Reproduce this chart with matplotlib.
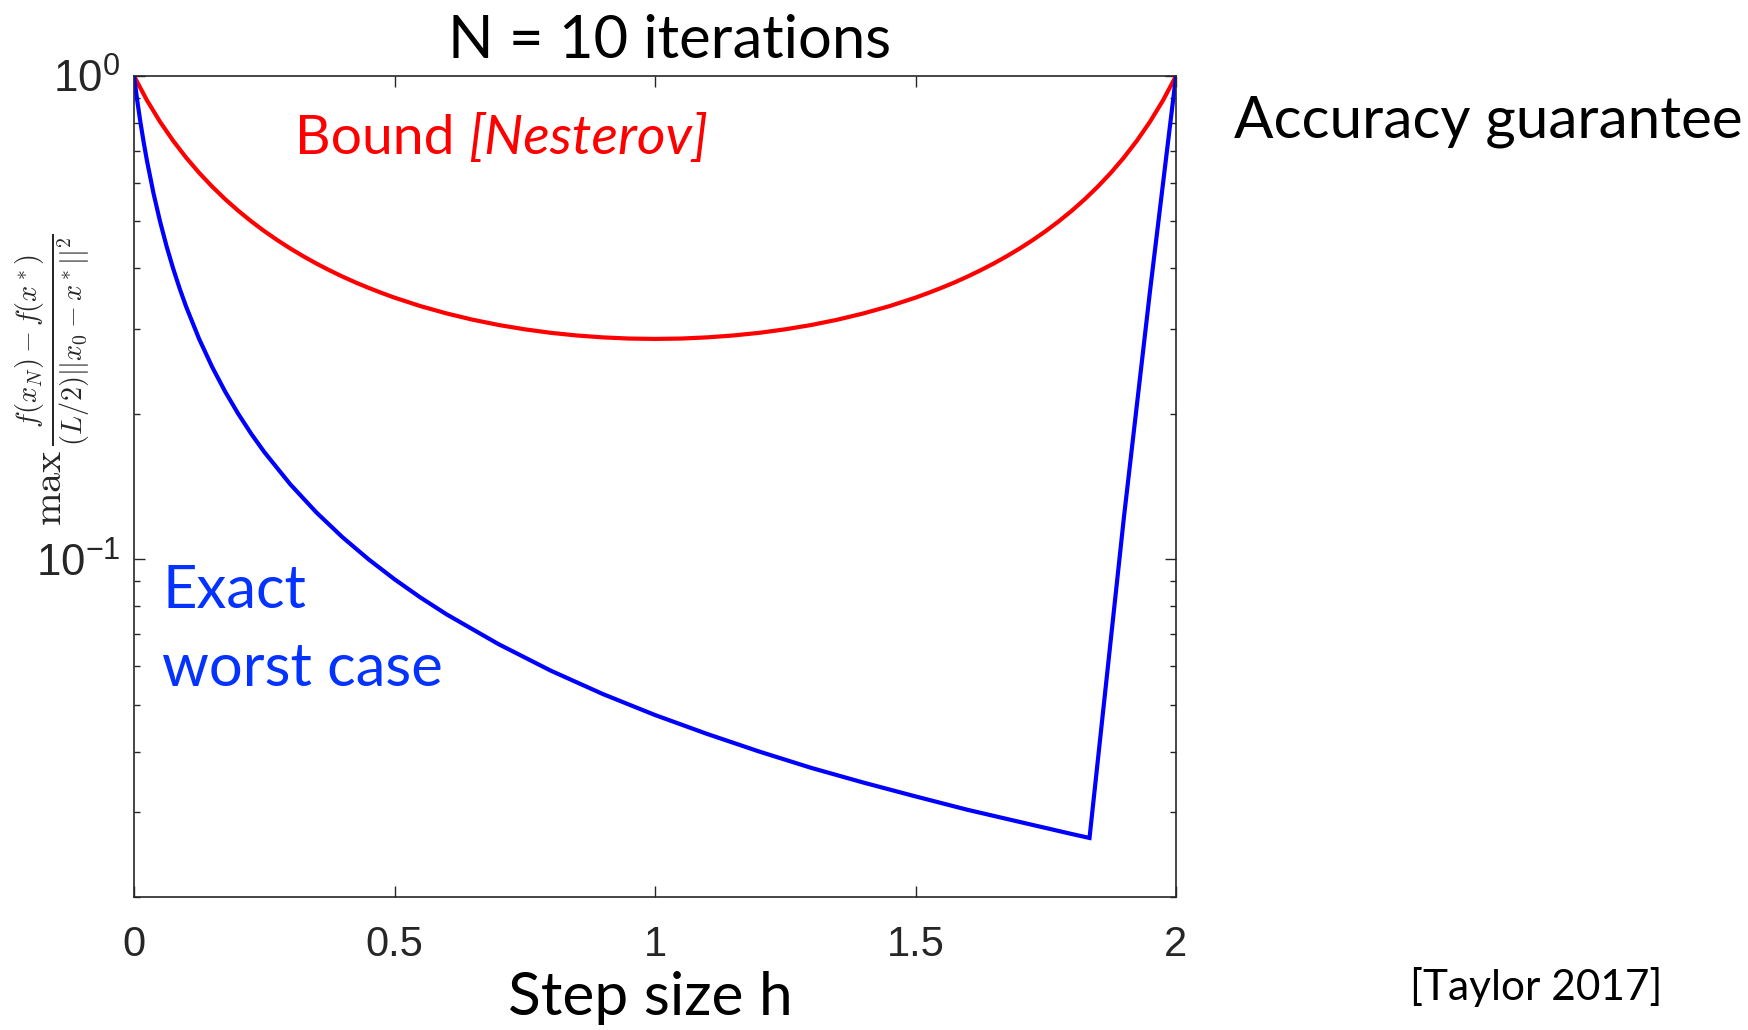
import matplotlib
matplotlib.use("Agg")
import matplotlib.pyplot as plt
import numpy as np
from matplotlib.ticker import LogLocator, NullFormatter, FixedLocator

# Data (N = 10 iterations)
h_bound = [0.0, 0.025, 0.05, 0.075, 0.1, 0.125, 0.15, 0.175, 0.2, 0.225, 0.25,
           0.275, 0.3, 0.325, 0.35, 0.375, 0.4, 0.425, 0.45, 0.475, 0.5,
           0.55, 0.6, 0.65, 0.7, 0.75, 0.8, 0.85, 0.9, 0.95, 1.0,
           1.05, 1.1, 1.15, 1.2, 1.25, 1.3, 1.35, 1.4, 1.45, 1.5,
           1.525, 1.55, 1.575, 1.6, 1.625, 1.65, 1.675, 1.7, 1.725, 1.75,
           1.775, 1.8, 1.825, 1.85, 1.875, 1.9, 1.925, 1.95, 1.975, 2.0]
bound = [1.0, 0.8901, 0.8040, 0.7348, 0.6780, 0.6305, 0.5904, 0.5560, 0.5263, 0.5004, 0.4776,
         0.4575, 0.4396, 0.4236, 0.4092, 0.3963, 0.3846, 0.3740, 0.3645, 0.3558, 0.3478,
         0.3340, 0.3226, 0.3131, 0.3053, 0.2991, 0.2941, 0.2904, 0.2878, 0.2862, 0.2857,
         0.2862, 0.2878, 0.2904, 0.2941, 0.2991, 0.3053, 0.3131, 0.3226, 0.3340, 0.3478,
         0.3558, 0.3645, 0.3740, 0.3846, 0.3963, 0.4092, 0.4236, 0.4396, 0.4575, 0.4776,
         0.5004, 0.5263, 0.5560, 0.5904, 0.6305, 0.6780, 0.7348, 0.8040, 0.8901, 1.0]

h_exact = [0.0, 0.00625, 0.0125, 0.01875, 0.025, 0.0375, 0.05, 0.0625, 0.075, 0.0875,
           0.1, 0.125, 0.15, 0.175, 0.2, 0.225, 0.25, 0.3, 0.35, 0.4, 0.45, 0.5, 0.55,
           0.6, 0.7, 0.8, 0.9, 1.0, 1.1, 1.2, 1.3, 1.4, 1.5, 1.6, 1.7, 1.8,
           1.834, 1.9, 1.95, 2.0]
exact = [1.0, 0.8889, 0.800, 0.7273, 0.6667, 0.5714, 0.500, 0.4444, 0.400, 0.3636,
         0.3333, 0.2857, 0.250, 0.2222, 0.200, 0.1818, 0.1667, 0.1429, 0.125, 0.1111, 0.100,
         0.0909, 0.0833, 0.0769, 0.0667, 0.0588, 0.0526, 0.0476, 0.0435, 0.0400, 0.0370,
         0.0345, 0.0323, 0.0303, 0.0286, 0.0270, 0.0265, 0.122, 0.358, 1.0]

xticks = [0, 0.5, 1, 1.5, 2]
xticklabels = ["0", "0.5", "1", "1.5", "2"]
yticks = [0.1, 1.0]
yticklabels = [r"$\mathregular{10^{-1}}$", r"$\mathregular{10^{0}}$"]

plt.rcParams["mathtext.fontset"] = "cm"
W, H = 1748, 1030
fig = plt.figure(figsize=(W / 100, H / 100), dpi=100, facecolor="white")
ax = fig.add_axes([134 / W, 1 - 897 / H, (1176 - 134) / W, (897 - 76) / H])

ax.plot(h_bound, bound, color="#ff0000", lw=3.0, solid_joinstyle="miter")
ax.plot(h_exact, exact, color="#0000ff", lw=3.0, solid_joinstyle="miter")

ax.set_yscale("log")
ax.set_xlim(0, 2)
ax.set_ylim(0.02, 1.0)

tick_col = "#262626"
ax.set_xticks(xticks)
ax.set_xticklabels(xticklabels, fontfamily="Liberation Sans", fontsize=30, color=tick_col)
ax.yaxis.set_major_locator(FixedLocator(yticks))
ax.set_yticklabels(yticklabels, fontfamily="Liberation Sans", fontsize=31.5, color=tick_col)
ax.yaxis.set_minor_locator(LogLocator(base=10, subs=np.arange(2, 10)))
ax.yaxis.set_minor_formatter(NullFormatter())

ax.tick_params(which="both", direction="in", top=True, right=True, color=tick_col, width=1.0)
ax.tick_params(which="major", length=8)
ax.tick_params(which="minor", length=4.5)
ax.tick_params(axis="x", pad=20)
ax.tick_params(axis="y", pad=10)
for s in ax.spines.values():
    s.set_color(tick_col)
    s.set_linewidth(1.2)

# y label (LaTeX style)
fig.text(53 / W, 1 - 380 / H,
         r"$\max\,\frac{f(x_N)-f(x^*)}{(L/2)||x_0-x^*||^2}$",
         rotation=90, ha="center", va="center", fontsize=29, color=tick_col)

sans = "Lato"
blue_txt = "#0433ff"
fig.text(670 / W, 1 - 58 / H, "N = 10 iterations", ha="center", va="baseline",
         fontsize=43, fontfamily=sans, color="black")
fig.text(650 / W, 1 - 1015 / H, "Step size h", ha="center", va="baseline",
         fontsize=43.5, fontfamily=sans, color="black")
fig.text(1234 / W, 1 - 137 / H, "Accuracy guarantee", ha="left", va="baseline",
         fontsize=42, fontfamily=sans, color="black")
fig.text(1410 / W, 1 - 1000 / H, "[Taylor 2017]", ha="left", va="baseline",
         fontsize=30.5, fontfamily=sans, color="black")
fig.text(162 / W, 1 - 608 / H, "Exact", ha="left", va="baseline",
         fontsize=43, fontfamily=sans, color=blue_txt)
fig.text(162 / W, 1 - 686 / H, "worst case", ha="left", va="baseline",
         fontsize=43, fontfamily=sans, color=blue_txt)

# "Bound [Nesterov]" with italic second part placed right after the first
t1 = fig.text(295 / W, 1 - 154 / H, "Bound ", ha="left", va="baseline",
              fontsize=39.8, fontfamily=sans, color="#ff0000")
fig.canvas.draw()
bb = t1.get_window_extent(renderer=fig.canvas.get_renderer())
fig.text(bb.x1 / W, 1 - 154 / H, "[Nesterov]", ha="left", va="baseline",
         fontsize=39.8, fontfamily=sans, style="italic", color="#ff0000")

fig.savefig("out.png", dpi=100, facecolor="white")
